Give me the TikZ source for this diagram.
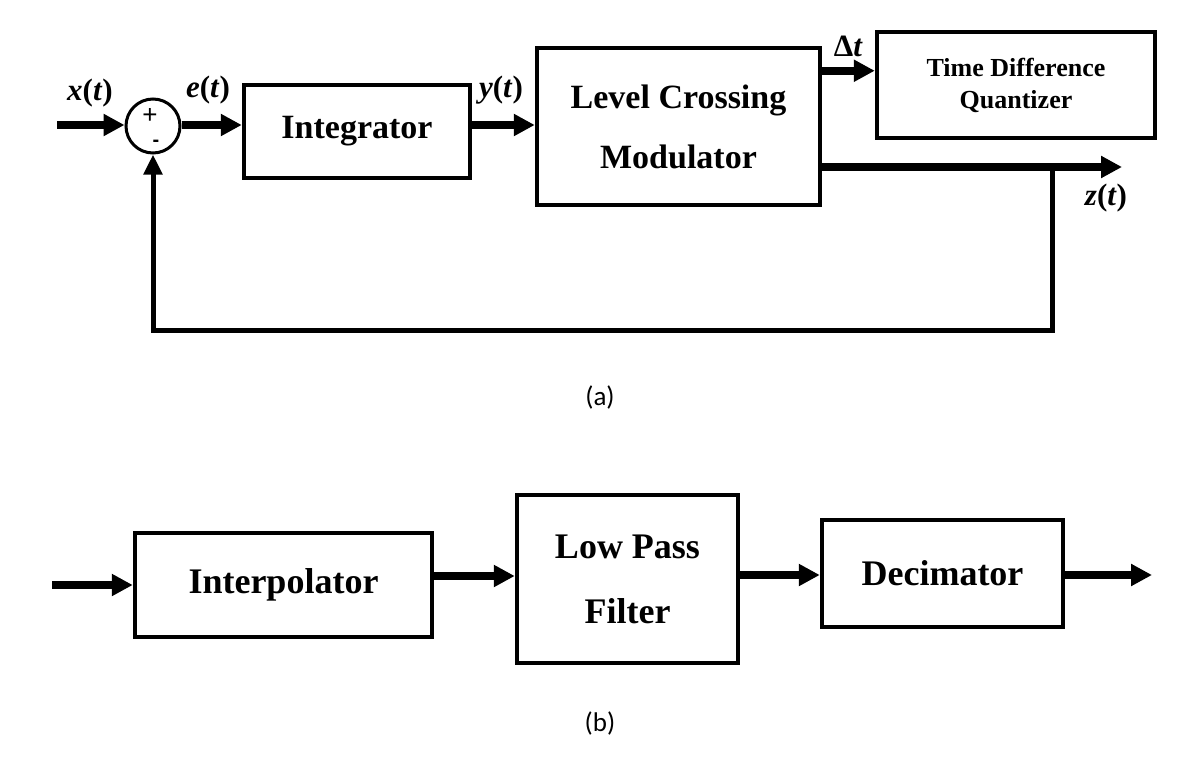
\documentclass[tikz,border=0pt]{standalone}
\usepackage{fontspec}
\setmainfont{Liberation Serif}
\newfontfamily\capfont{Carlito}
\newfontfamily\signfont{Liberation Sans}
\usetikzlibrary{arrows.meta,calc,positioning}
\tikzset{
  block/.style={draw,line width=4.5pt,fill=white,align=center,inner sep=0pt,
    font=\bfseries\fontsize{34}{60}\selectfont},
  smallblock/.style={block,font=\bfseries\fontsize{26}{32}\selectfont},
  bigblock/.style={block,font=\bfseries\fontsize{36}{65}\selectfont},
  sumnode/.style={circle,draw,line width=3pt,minimum size=54pt,inner sep=0pt},
  signtext/.style={inner sep=0pt,font=\signfont\fontsize{26}{26}\selectfont},
  sig/.style={-{Triangle[length=21pt,width=21pt]},line width=8pt},
  fbline/.style={-{Triangle[length=20pt,width=18pt]},line width=5pt},
  siglabel/.style={inner sep=0pt,font=\bfseries\itshape\fontsize{31}{34}\selectfont},
  caplabel/.style={inner sep=0pt,font=\capfont\fontsize{27}{30}\selectfont}
}
\newcommand{\sigof}[1]{#1\textup{(}t\textup{)}}

\begin{document}
\begin{tikzpicture}[x=1pt,y=-1pt]
  \useasboundingbox (0,0) rectangle (1200,766);
  % (a) level crossing loop
  \node[sumnode] (sum) at (153,126) {};
  \node[signtext] (plus) at (150,116) {+};
  \node[signtext,font=\signfont\bfseries\fontsize{20}{20}\selectfont] (minus) at (156,143) {-};
  \node[block,minimum width=226pt,minimum height=93pt] (integ) at (357,131.5) {Integrator};
  \node[block,minimum width=283pt,minimum height=157pt] (lcm) at (678.5,126.5) {Level Crossing\\Modulator};
  \node[smallblock,minimum width=278pt,minimum height=106pt] (tdq) at (1016,85) {Time Difference\\Quantizer};
  \coordinate (xin) at (57,125);
  \coordinate (zout) at (1122,167);
  \coordinate (tap) at (1052,167);
  \coordinate (fbk) at (153,330);
  \draw[sig] (xin) -- (xin -| sum.west);
  \draw[sig] (xin -| sum.east) -- (xin -| integ.west);
  \draw[sig] (xin -| integ.east) -- (xin -| lcm.west);
  \draw[sig] ($(lcm.north east)+(0,25)$) -- ($(tdq.west |- lcm.north)+(0,25)$);
  \draw[sig] (zout -| lcm.east) -- (zout);
  \draw[fbline] (tap) |- (fbk) -- (sum.south);
  \node[siglabel] (xlab) at (90,93) {\sigof{x}};
  \node[siglabel] (elab) at (208,90) {\sigof{e}};
  \node[siglabel] (ylab) at (501,90) {\sigof{y}};
  \node[siglabel] (dtlab) at (848,46) {{\upshape Δ}t};
  \node[siglabel] (zlab) at (1106,198) {\sigof{z}};
  \node[caplabel] (capa) at (600,397) {(a)};
  % (b) reconstruction chain
  \node[bigblock,minimum width=297pt,minimum height=104pt] (interp) at (283.5,585) {Interpolator};
  \node[bigblock,minimum width=221pt,minimum height=168pt] (lpf) at (627.5,579) {Low Pass\\Filter};
  \node[bigblock,minimum width=241pt,minimum height=107pt] (dec) at (942.5,573.5) {Decimator};
  \coordinate (uin) at (52,585);
  \coordinate (uout) at (1152,575);
  \draw[sig] (uin) -- (interp.west);
  \draw[sig] ($(interp.east)+(0,-9)$) -- ($(lpf.west |- interp.east)+(0,-9)$);
  \draw[sig] (lpf.east |- uout) -- (dec.west |- uout);
  \draw[sig] (dec.east |- uout) -- (uout);
  \node[caplabel] (capb) at (600,723) {(b)};
\end{tikzpicture}
\end{document}
